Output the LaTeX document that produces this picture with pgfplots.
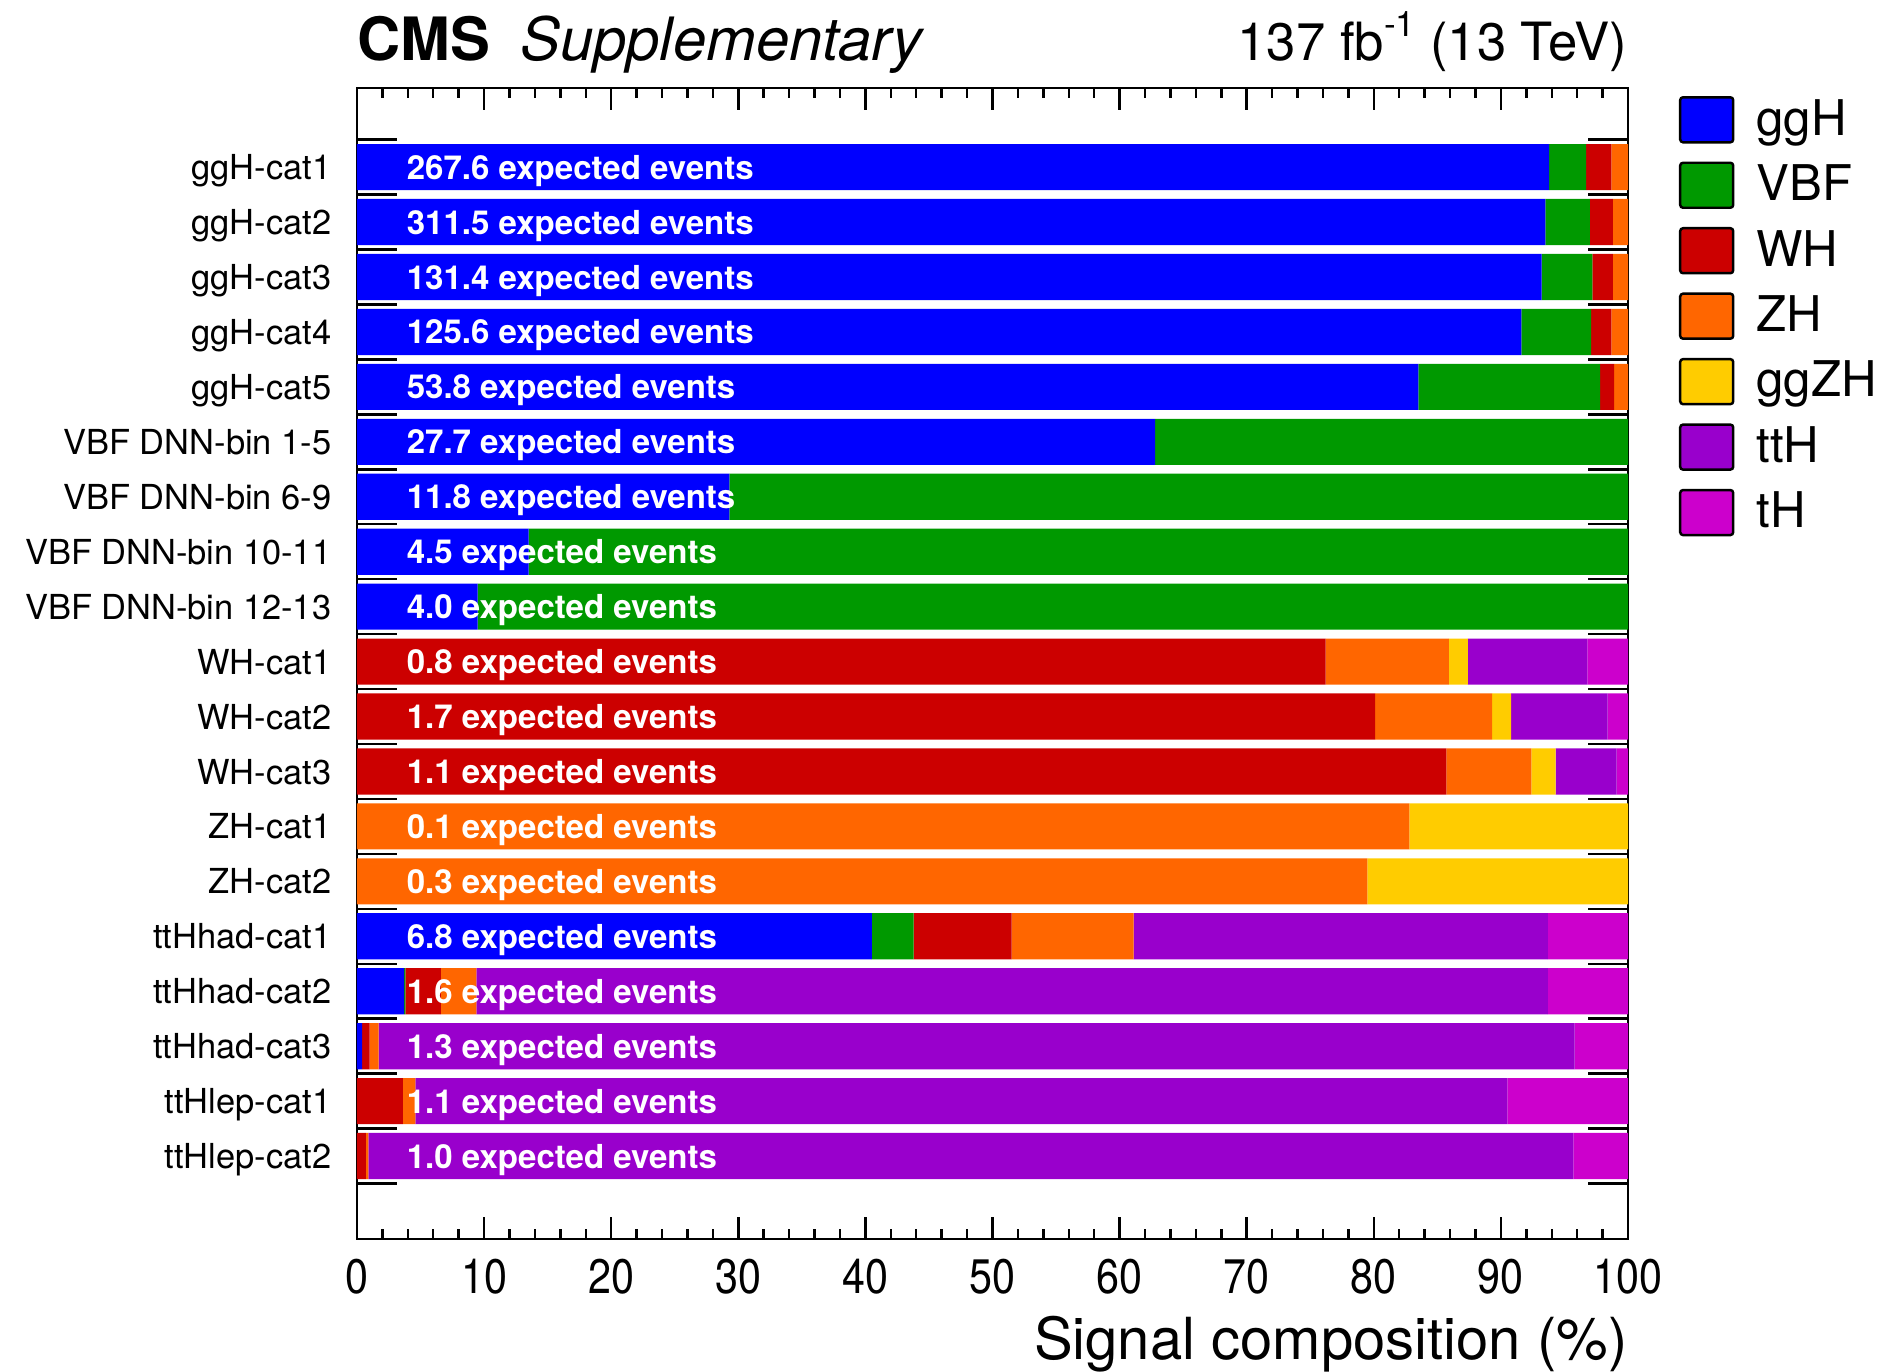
\documentclass[border=0pt]{standalone}
\usepackage{fontspec}
\setmainfont{TeX Gyre Heros}
\newfontfamily\tickfont[FakeStretch=0.85]{TeX Gyre Heros}
\usepackage{pgfplots}
\usepackage{pgfplotstable}
\pgfplotsset{compat=1.18}

\definecolor{cggH}{HTML}{0000FF}
\definecolor{cVBF}{HTML}{009900}
\definecolor{cWH}{HTML}{CC0000}
\definecolor{cZH}{HTML}{FF6600}
\definecolor{cggZH}{HTML}{FFCC00}
\definecolor{cttH}{HTML}{9900CC}
\definecolor{ctH}{HTML}{CC00CC}

\tikzset{evt/.style={anchor=base west, inner sep=0pt, text=white, font=\bfseries\fontsize{9.4}{9.4}\selectfont, yshift=-0.12cm}}

% signal composition in %, one row per category (1 = top)
\pgfplotstableread{
pos ggH  VBF  WH   ZH   ggZH ttH  tH
1   93.8 2.9  2.0  1.3  0    0    0
2   93.5 3.5  1.8  1.2  0    0    0
3   93.2 4.0  1.6  1.2  0    0    0
4   91.6 5.5  1.6  1.3  0    0    0
5   83.5 14.3 1.1  1.1  0    0    0
6   62.8 37.2 0    0    0    0    0
7   29.3 70.7 0    0    0    0    0
8   13.5 86.5 0    0    0    0    0
9   9.5  90.5 0    0    0    0    0
10  0    0    76.2 9.7  1.5  9.4  3.2
11  0    0    80.1 9.2  1.5  7.6  1.6
12  0    0    85.7 6.7  1.9  4.8  0.9
13  0    0    0    82.8 17.2 0    0
14  0    0    0    79.5 20.5 0    0
15  40.5 3.3  7.7  9.6  0    32.6 6.3
16  3.7  0.1  2.8  2.8  0    84.3 6.3
17  0.4  0    0.6  0.7  0    94.1 4.2
18  0    0    3.6  1.0  0    85.9 9.5
19  0    0    0.7  0.2  0    94.8 4.3
}\composition

\begin{document}
\begin{tikzpicture}
\path[use as bounding box] (-3.57,-1.32) rectangle (15.29,12.39);
\begin{axis}[
    scale only axis,
    width=12.71cm, height=11.51cm,
    xbar stacked, bar width=0.84,
    xmin=0, xmax=100,
    ymin=-0.44, ymax=20.51, y dir=reverse,
    clip=false,
    axis line style={line width=0.7pt},
    every tick/.style={black, line width=0.7pt},
    tick align=inside,
    xtick pos=both, ytick pos=both,
    xticklabel pos=lower, yticklabel pos=left,
    xtick={0,10,...,100}, minor x tick num=4,
    major tick length=0.22cm, minor tick length=0.1cm,
    /pgf/number format/assume math mode=true,
    xticklabel style={font=\tickfont\fontsize{13.8}{14}\selectfont, anchor=base, inner sep=0pt, yshift=-0.54cm},
    ytick={0.5,1.5,2.5,3.5,4.5,5.5,6.5,7.5,8.5,9.5,10.5,11.5,12.5,13.5,14.5,15.5,16.5,17.5,18.5,19.5},
    yticklabels={ggH-cat1,ggH-cat2,ggH-cat3,ggH-cat4,ggH-cat5,VBF DNN-bin 1-5,VBF DNN-bin 6-9,VBF DNN-bin 10-11,VBF DNN-bin 12-13,WH-cat1,WH-cat2,WH-cat3,ZH-cat1,ZH-cat2,ttHhad-cat1,ttHhad-cat2,ttHhad-cat3,ttHlep-cat1,ttHlep-cat2,{}},
    ytick style={/pgfplots/major tick length=0.4cm},
    yticklabel style={font=\fontsize{9.8}{10}\selectfont, anchor=base east, inner sep=0pt, xshift=-0.25cm, yshift=-0.40cm},
    legend style={at={(1.0401,0.993)}, anchor=north west, draw=none, fill=none,
        inner sep=0pt, outer sep=0pt, row sep=0.18cm,
        font=\fontsize{14}{14}\selectfont, nodes={inner sep=0pt},
        /tikz/every odd column/.append style={column sep=0.22cm}},
    legend cell align=left,
    legend image code/.code={\draw[#1, draw=black, line width=0.7pt, rounded corners=0.8pt] (0cm,-0.225cm) rectangle (0.53cm,0.225cm);},
    after end axis/.code={
        \node[evt] at (axis cs:3.86,1) {267.6 expected events};
        \node[evt] at (axis cs:3.86,2) {311.5 expected events};
        \node[evt] at (axis cs:3.86,3) {131.4 expected events};
        \node[evt] at (axis cs:3.86,4) {125.6 expected events};
        \node[evt] at (axis cs:3.86,5) {53.8 expected events};
        \node[evt] at (axis cs:3.86,6) {27.7 expected events};
        \node[evt] at (axis cs:3.86,7) {11.8 expected events};
        \node[evt] at (axis cs:3.86,8) {4.5 expected events};
        \node[evt] at (axis cs:3.86,9) {4.0 expected events};
        \node[evt] at (axis cs:3.86,10) {0.8 expected events};
        \node[evt] at (axis cs:3.86,11) {1.7 expected events};
        \node[evt] at (axis cs:3.86,12) {1.1 expected events};
        \node[evt] at (axis cs:3.86,13) {0.1 expected events};
        \node[evt] at (axis cs:3.86,14) {0.3 expected events};
        \node[evt] at (axis cs:3.86,15) {6.8 expected events};
        \node[evt] at (axis cs:3.86,16) {1.6 expected events};
        \node[evt] at (axis cs:3.86,17) {1.3 expected events};
        \node[evt] at (axis cs:3.86,18) {1.1 expected events};
        \node[evt] at (axis cs:3.86,19) {1.0 expected events};
    },
]
\addplot[fill=cggH, draw=none] table[x=ggH, y=pos] {\composition};
\addplot[fill=cVBF, draw=none] table[x=VBF, y=pos] {\composition};
\addplot[fill=cWH, draw=none] table[x=WH, y=pos] {\composition};
\addplot[fill=cZH, draw=none] table[x=ZH, y=pos] {\composition};
\addplot[fill=cggZH, draw=none] table[x=ggZH, y=pos] {\composition};
\addplot[fill=cttH, draw=none] table[x=ttH, y=pos] {\composition};
\addplot[fill=ctH, draw=none] table[x=tH, y=pos] {\composition};
\legend{ggH,VBF,WH,ZH,ggZH,ttH,tH}

\node[anchor=base west, inner sep=0pt, font=\fontsize{17}{17}\selectfont] at ([yshift=0.28cm]axis description cs:0,1) {\textbf{CMS}\hspace{0.3cm}\textit{Supplementary}};
\node[anchor=base east, inner sep=0pt, font=\fontsize{15}{15}\selectfont] at ([yshift=0.28cm]axis description cs:1,1) {137 fb\raisebox{0.45em}{\fontsize{10}{10}\selectfont -1} (13 TeV)};
\node[anchor=base east, inner sep=0pt, font=\fontsize{16.5}{16.5}\selectfont] at ([yshift=-1.2cm]axis description cs:1,0) {Signal composition (\%)};
\end{axis}
\end{tikzpicture}
\end{document}
